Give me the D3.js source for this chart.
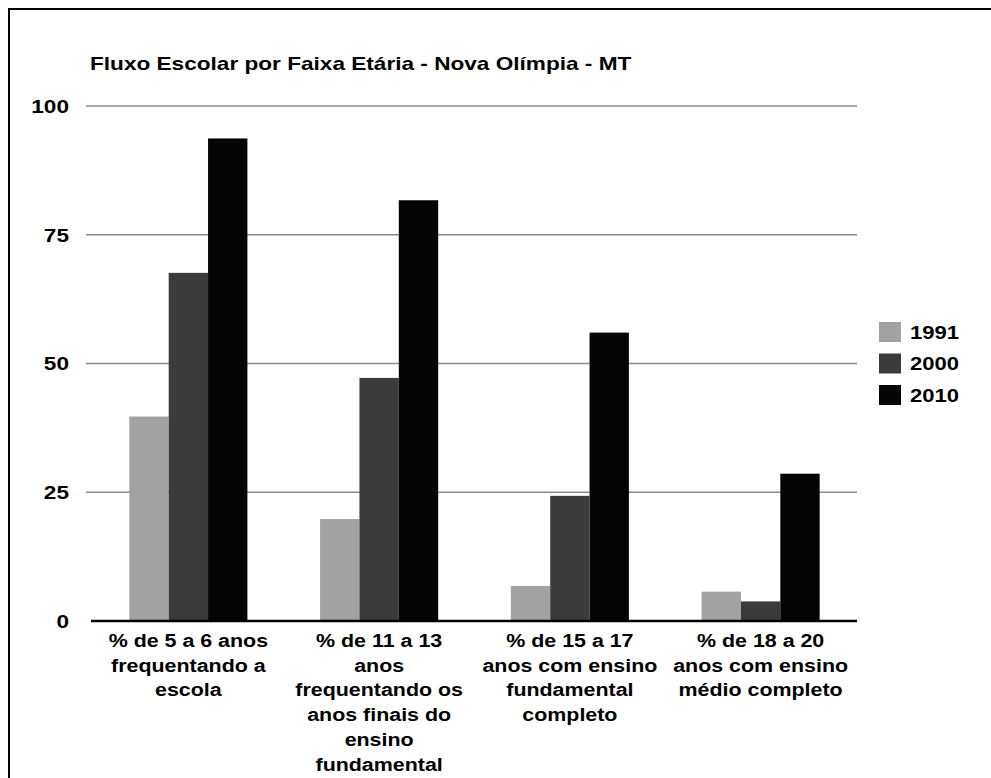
<!DOCTYPE html>
<html>
<head>
<meta charset="utf-8">
<script src="https://cdn.jsdelivr.net/npm/d3@7"></script>
<style>
  html, body { margin: 0; padding: 0; background: #fff; }
  svg { display: block; }
  text { font-family: "Liberation Sans", Arial, sans-serif; fill: #000; }
</style>
</head>
<body>
<svg id="chart" width="991" height="778"></svg>
<script>
// ---- data ----
const title = "Fluxo Escolar por Faixa Etária - Nova Olímpia - MT";
const categories = ["5-6", "11-13", "15-17", "18-20"];
const categoryLines = [
  ["% de 5 a 6 anos", "frequentando a", "escola"],
  ["% de 11 a 13", "anos", "frequentando os", "anos finais do", "ensino", "fundamental"],
  ["% de 15 a 17", "anos com ensino", "fundamental", "completo"],
  ["% de 18 a 20", "anos com ensino", "médio completo"]
];
const years = ["1991", "2000", "2010"];
const values1991 = [39.7, 19.8, 6.8, 5.7];
const values2000 = [67.6, 47.2, 24.3, 3.8];
const values2010 = [93.7, 81.7, 56.0, 28.6];
const yTicks = [0, 25, 50, 75, 100];
const seriesColors = ["#a2a2a2", "#3b3b3b", "#050505"];

const seriesValues = [values1991, values2000, values2010];
const SX = 1.19; // horizontal stretch of text in the reference

const svg = d3.select("#chart");

// frame
svg.append("path")
  .attr("d", "M9,778 L9,9 L991,9")
  .attr("fill", "none").attr("stroke", "#000").attr("stroke-width", 2);

const x = d3.scaleBand().domain(categories).range([93, 856]).paddingInner(0.381).paddingOuter(0.1905);
const xs = d3.scaleBand().domain(years).range([0, x.bandwidth()]);
const y = d3.scaleLinear().domain([0, 100]).range([621, 106]);

// gridlines
svg.append("g").selectAll("line").data(yTicks.filter(t => t > 0)).join("line")
  .attr("x1", 86).attr("x2", 857)
  .attr("y1", d => y(d)).attr("y2", d => y(d))
  .attr("stroke", "#8c8c8c").attr("stroke-width", 1.6);

// y labels
svg.append("g").selectAll("text").data(yTicks).join("text")
  .attr("transform", d => `translate(69,${y(d)}) scale(${SX},1)`)
  .attr("dy", "0.36em")
  .attr("text-anchor", "end")
  .attr("font-size", 19).attr("font-weight", "bold")
  .text(d => d);

// bars
const groups = svg.append("g").selectAll("g").data(categories).join("g")
  .attr("transform", d => `translate(${x(d)},0)`);
groups.selectAll("rect").data((d, i) => years.map((yr, j) => ({ yr, v: seriesValues[j][i], j })))
  .join("rect")
  .attr("x", d => xs(d.yr))
  .attr("width", xs.bandwidth())
  .attr("y", d => y(d.v))
  .attr("height", d => y(0) - y(d.v))
  .attr("fill", d => seriesColors[d.j]);

// x axis line
svg.append("line")
  .attr("x1", 91).attr("x2", 857).attr("y1", 621).attr("y2", 621)
  .attr("stroke", "#000").attr("stroke-width", 2.4);

// x labels
const xl = svg.append("g").selectAll("g").data(categories).join("g")
  .attr("transform", d => `translate(${x(d) + x.bandwidth() / 2},647)`);
xl.selectAll("text").data((d, i) => categoryLines[i]).join("text")
  .attr("transform", (d, k) => `translate(0,${k * 24.7}) scale(${SX},1)`)
  .attr("text-anchor", "middle")
  .attr("font-size", 18).attr("font-weight", "bold")
  .text(d => d);

// title
svg.append("text")
  .attr("transform", `translate(90,69.5) scale(${SX},1)`)
  .attr("font-size", 19).attr("font-weight", "bold")
  .text(title);

// legend
const lg = svg.append("g").selectAll("g").data(years).join("g")
  .attr("transform", (d, i) => `translate(879,${332 + i * 31.5})`);
lg.append("rect").attr("x", 0).attr("y", -10).attr("width", 22).attr("height", 20)
  .attr("fill", (d, i) => seriesColors[i]);
lg.append("text")
  .attr("transform", `translate(31,0) scale(${SX},1)`)
  .attr("dy", "0.36em")
  .attr("font-size", 18.5).attr("font-weight", "bold")
  .text(d => d);
</script>
</body>
</html>
